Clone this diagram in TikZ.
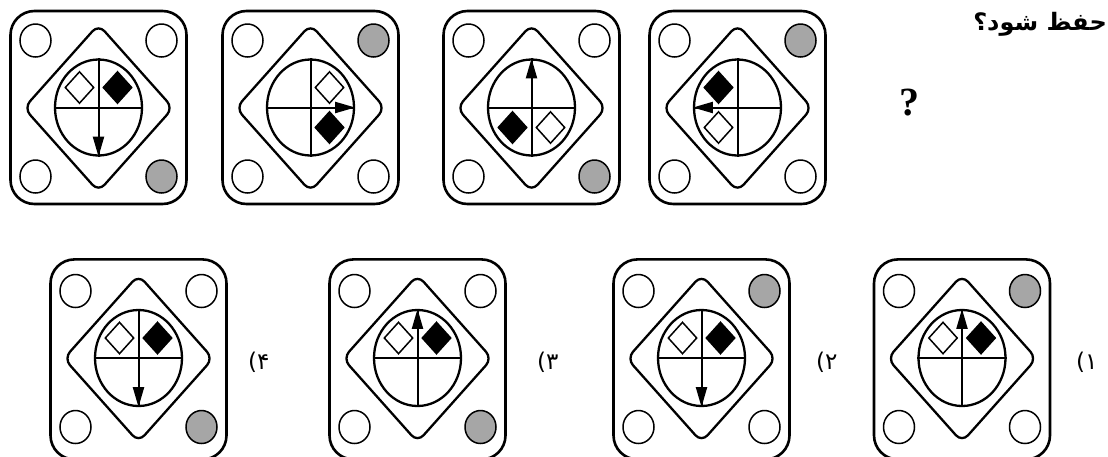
\documentclass[tikz,border=0pt]{standalone}
\usepackage{fontspec}
\setmainfont{Liberation Serif}
\newfontfamily\farsi[Script=Arabic]{DejaVu Sans}
\TeXXeTstate=1
\usetikzlibrary{shapes.geometric, arrows.meta}

\tikzset{
  frame/.style={draw, line width=2.6pt, rounded corners=24pt, minimum width=176pt, inner sep=0pt},
  rhomb/.style={draw, diamond, line width=2.3pt, rounded corners=9pt, minimum width=150pt, minimum height=168pt, inner sep=0pt},
  dial/.style={draw, ellipse, line width=2.3pt, minimum width=87pt, minimum height=96pt, inner sep=0pt},
  spot/.style={draw, ellipse, line width=1.5pt, minimum width=31pt, minimum height=33pt, inner sep=0pt},
  gem/.style={draw, diamond, line width=1.5pt, minimum width=29pt, minimum height=32pt, inner sep=0pt},
  axis/.style={line width=2pt},
  pointer/.style={line width=2pt, -{Triangle[length=20pt, width=11pt]}},
  choice/.style={font=\farsi\fontsize{23}{26}\selectfont, inner sep=0pt}
}

\begin{document}
\begin{tikzpicture}[x=1pt, y=-1pt]
    \useasboundingbox (0,0) rectangle (1108,456);
    % panels: centre, frame height, grey corner, arrow, white gem, black gem
    \foreach \px/\py/\fh/\gr/\dir/\wx/\wy/\bx/\by [count=\n] in {
        98.5/107.5/193/2/south/-1/-1/1/-1, 310.5/107.5/193/1/east/1/-1/1/1,
        531.5/107.5/193/2/north/1/1/-1/1, 737.5/107.5/193/1/west/-1/1/-1/-1,
        138.5/358/200/2/south/-1/-1/1/-1, 417.5/358/200/2/north/-1/-1/1/-1,
        701.5/358/200/1/south/-1/-1/1/-1, 962/358/200/1/north/-1/-1/1/-1} {
      \begin{scope}[shift={(\px,\py)}]
        \node[frame, minimum height=\fh pt] (f\n) at (0,0.2*\fh-38.6) {};
        \node[rhomb] (r\n) at (0,0.5) {};
        \foreach \sx/\sy/\k in {-63/-67/0, 63/-67/1, 63/69/2, -63/69/3} {
          \pgfmathtruncatemacro{\isG}{ifthenelse(\k==\gr,1,0)}
          \ifnum\isG=1
            \node[spot, fill=black!35] (c\n-\k) at (\sx,\sy) {};
          \else
            \node[spot, fill=white] (c\n-\k) at (\sx,\sy) {};
          \fi
        }
        \node[dial] (e\n) at (0,0) {};
        \draw[axis] (e\n.north) -- (e\n.south);
        \draw[axis] (e\n.west) -- (e\n.east);
        \node[gem, fill=white] (w\n) at (19*\wx,20*\wy) {};
        \node[gem, fill=black] (b\n) at (19*\bx,20*\by) {};
        \draw[pointer] (e\n.center) -- (e\n.\dir);
      \end{scope}
    }
    % answer numbers
    \foreach \lx/\lt [count=\m] in {248/۴, 537/۳, 816/۲, 1076/۱} {
      \node[choice, anchor=west] (l\m) at (\lx,362) {\lt)};
    }
    \node[font=\bfseries\fontsize{40}{42}\selectfont, anchor=base, inner sep=0pt] (qm) at (909,115) {?};
    \node[font=\farsi\bfseries\fontsize{24}{28}\selectfont, anchor=base east, inner sep=0pt] (qs) at (1107,30) {\beginR حفظ شود؟\endR};
\end{tikzpicture}
\end{document}
